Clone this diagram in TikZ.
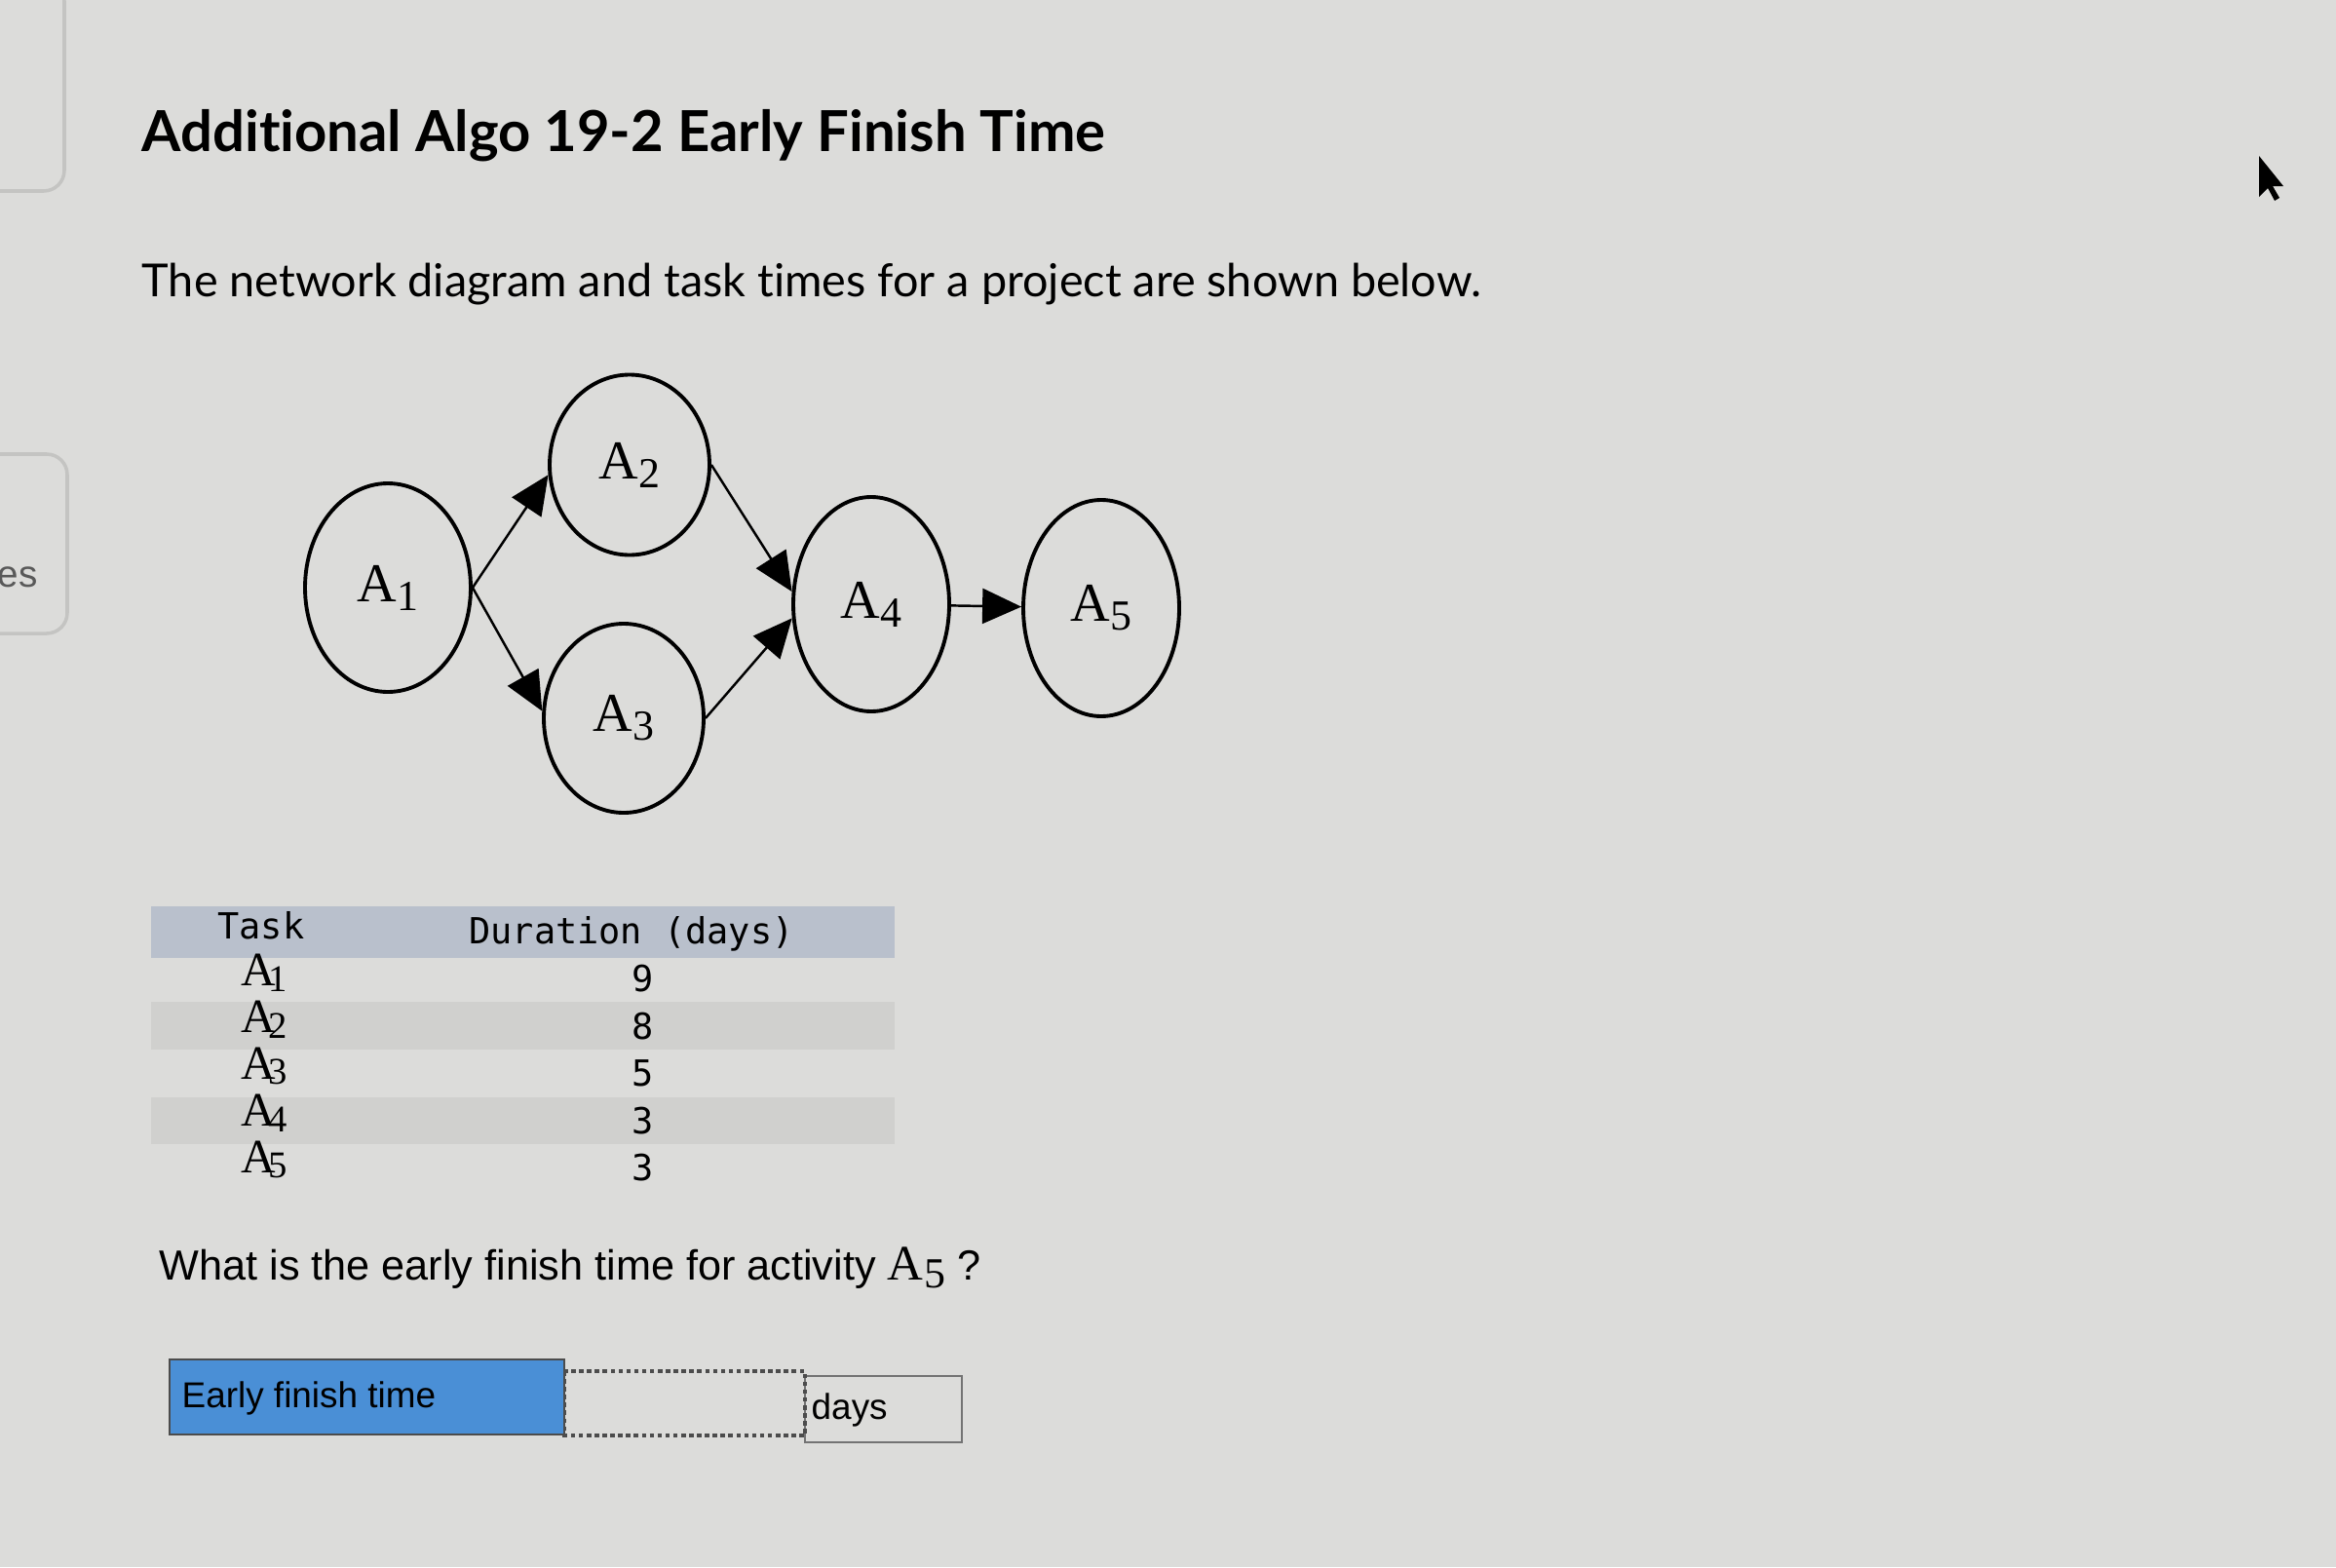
\documentclass[tikz,border=0pt]{standalone}
\usepackage{fontspec}
\usepackage{xcolor}
\usetikzlibrary{shapes.geometric,arrows.meta}
\setmainfont{Liberation Sans}
\newfontfamily\titulo[Ligatures=NoCommon]{Lato}
\newfontfamily\serifa{Liberation Serif}
\newfontfamily\mono{DejaVu Sans Mono}
\definecolor{fundo}{HTML}{DCDCDA}
\definecolor{cabecalho}{HTML}{B9C0CC}
\definecolor{listra}{HTML}{D0D0CE}
\definecolor{azul}{HTML}{4A8FD6}
\definecolor{borda}{HTML}{C4C4C2}
\newcommand{\ativ}[1]{A\kern0.02em\raisebox{-0.35ex}{\fontsize{12.5}{12.5}\selectfont #1}}
\newcommand{\ativtab}[1]{A\kern-0.16em\raisebox{-0.25ex}{\fontsize{11}{11}\selectfont #1}}

\begin{document}
\begin{tikzpicture}
        \tikzstyle{tarefa}=[draw=black, ellipse, line width=1.1pt, inner sep=0pt, font=\serifa\fontsize{16}{16}\selectfont]
        \tikzstyle{seta}=[line width=0.7pt, -{Triangle[length=4mm,width=3.6mm]}]
        \tikzstyle{celula}=[inner sep=0pt, font=\mono\fontsize{10.5}{10.5}\selectfont]
        \tikzstyle{rotulo}=[inner sep=0pt, anchor=west, font=\serifa\fontsize{14}{14}\selectfont]

        \fill[fundo] (0,0) rectangle (23.97,-16.08);
        \useasboundingbox (0,0) rectangle (23.97,-16.08);

        % restos da tela
        \draw[borda, line width=1pt, rounded corners=6pt] (-0.2,0.2) -- (0.66,0.2) -- (0.66,-1.96) -- (-0.2,-1.96);
        \draw[borda, line width=1pt, rounded corners=6pt] (-0.2,-4.66) -- (0.69,-4.66) -- (0.69,-6.50) -- (-0.2,-6.50);
        \node[anchor=west, inner sep=0pt, text=black!65, font=\fontsize{11}{11}\selectfont] (es) at (-0.03,-5.92) {es};
        \fill[black] (23.18,-1.60) -- (23.18,-2.02) -- (23.27,-1.93) -- (23.34,-2.06) -- (23.39,-2.03) -- (23.32,-1.91) -- (23.43,-1.91) -- cycle;

        % textos
        \node[anchor=base west, inner sep=0pt, font=\titulo\bfseries\fontsize{16.5}{16.5}\selectfont] (titulo) at (1.45,-1.56)
          {Additional Algo 19-2 Early Finish Time};
        \node[anchor=base west, inner sep=0pt, font=\titulo\fontsize{13.3}{13.3}\selectfont] (intro) at (1.45,-3.04)
          {The network diagram and task times for a project are shown below.};

        % rede
        \node[tarefa, minimum width=1.70cm, minimum height=2.14cm] (A1) at (3.98,-6.03) {\ativ{1}};
        \node[tarefa, minimum width=1.64cm, minimum height=1.85cm] (A2) at (6.46,-4.77) {\ativ{2}};
        \node[tarefa, minimum width=1.64cm, minimum height=1.94cm] (A3) at (6.40,-7.37) {\ativ{3}};
        \node[tarefa, minimum width=1.60cm, minimum height=2.20cm] (A4) at (8.94,-6.20) {\ativ{4}};
        \node[tarefa, minimum width=1.60cm, minimum height=2.22cm] (A5) at (11.30,-6.24) {\ativ{5}};

        \draw[seta] (A1.east) -- (A2.187);
        \draw[seta] (A1.east) -- (A3.175);
        \draw[seta] (A2.east) -- (A4.171);
        \draw[seta] (A3.east) -- (A4.190);
        \draw[seta] (A4) -- (A5);

        % tabela
        \fill[cabecalho] (1.55,-9.30) rectangle (9.18,-9.83);
        \fill[listra] (1.55,-10.28) rectangle (9.18,-10.77);
        \fill[listra] (1.55,-11.26) rectangle (9.18,-11.74);
        \node[celula] (task) at (2.68,-9.50) {Task};
        \node[celula] (duracao) at (6.48,-9.58) {Duration (days)};
        \node[rotulo] (t1) at (2.47,-9.98) {\ativtab{1}};
        \node[rotulo] (t2) at (2.47,-10.46) {\ativtab{2}};
        \node[rotulo] (t3) at (2.47,-10.94) {\ativtab{3}};
        \node[rotulo] (t4) at (2.47,-11.42) {\ativtab{4}};
        \node[rotulo] (t5) at (2.47,-11.90) {\ativtab{5}};
        \node[celula] (d1) at (6.60,-10.04) {9};
        \node[celula] (d2) at (6.60,-10.53) {8};
        \node[celula] (d3) at (6.60,-11.01) {5};
        \node[celula] (d4) at (6.60,-11.50) {3};
        \node[celula] (d5) at (6.60,-11.98) {3};

        % pergunta
        \node[anchor=base west, inner sep=0pt, font=\fontsize{12.3}{12.3}\selectfont] (pergunta) at (1.63,-13.13)
          {What is the early finish time for activity {\serifa\fontsize{14.5}{14.5}\selectfont\ativ{5}} ?};

        % resposta
        \draw[black!55, line width=0.8pt, fill=fundo] (8.26,-14.12) rectangle (9.87,-14.80);
        \draw[black!70, line width=1.3pt, densely dotted] (5.79,-14.07) rectangle (8.26,-14.73);
        \draw[black!70, line width=0.8pt, fill=azul] (1.74,-13.95) rectangle (5.79,-14.72);
        \node[anchor=west, inner sep=0pt, font=\fontsize{10.5}{10.5}\selectfont] (efrotulo) at (1.86,-14.35) {Early finish time};
        \node[anchor=west, inner sep=0pt, font=\fontsize{10.5}{10.5}\selectfont] (dias) at (8.32,-14.47) {days};
      \end{tikzpicture}
\end{document}
